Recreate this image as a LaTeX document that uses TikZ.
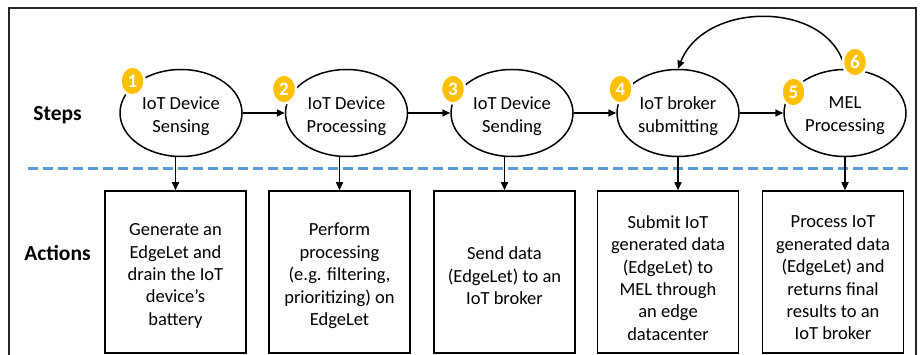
\documentclass[tikz,border=0pt]{standalone}
\usepackage{fontspec}
\setmainfont{Carlito}
\usetikzlibrary{shapes.geometric,arrows.meta}
\definecolor{badgecol}{HTML}{FFC000}
\definecolor{dashblue}{HTML}{5B9BD5}
\begin{document}
\begin{tikzpicture}[x=1pt,y=-1pt,
  stepnode/.style={ellipse, draw, line width=1.5pt, minimum width=122pt, minimum height=87pt, inner sep=0pt},
  steptext/.style={align=center, inner sep=0pt, font=\fontsize{18.5}{23}\selectfont},
  actbox/.style={draw, line width=1.5pt, minimum width=141pt, minimum height=162pt, inner sep=0pt},
  boxtext/.style={align=center, inner sep=0pt, font=\fontsize{18.5}{22.4}\selectfont},
  badgenode/.style={ellipse, fill=badgecol, draw=white, line width=2.5pt, minimum width=24pt, minimum height=29pt, inner sep=0pt, text=white, font=\fontsize{19}{19}\selectfont\bfseries},
  arr/.style={-{Triangle[length=8pt,width=7pt]}, line width=1.5pt},
  rowlabel/.style={font=\fontsize{21.5}{24}\selectfont\bfseries}
]
\useasboundingbox (0,0) rectangle (920,355);
\clip (0,0) rectangle (920,355);
\fill[white] (0,0) rectangle (920,355);
% frame
\draw[line width=1.5pt, black!85] (9,365) -- (9,8) -- (916,8) -- (916,365);
% row labels
\node[rowlabel] (steps) at (57.5,115) {Steps};
\node[rowlabel] (actions) at (57.5,253) {Actions};
% dashed separator
\draw[dashblue, line width=3pt, dash pattern=on 10pt off 5pt] (28,169) -- (910,169);
% steps
\node[stepnode] (e1) at (181,113) {};
\node[stepnode] (e2) at (346.5,113) {};
\node[stepnode] (e3) at (512,113) {};
\node[stepnode] (e4) at (678,113) {};
\node[stepnode] (e5) at (845,113) {};
\node[steptext] (s1) at (181,116) {IoT Device\\Sensing};
\node[steptext] (s2) at (346.5,116) {IoT Device\\Processing};
\node[steptext] (s3) at (512,116) {IoT Device\\Sending};
\node[steptext] (s4) at (678,116) {IoT broker\\submitting};
\node[steptext] (s5) at (845,116) {MEL\\Processing};
% actions
\node[actbox] (b1) at (175.5,272) {};
\node[actbox] (b2) at (339.5,272) {};
\node[actbox] (b3) at (504.5,272) {};
\node[actbox] (b4) at (668,272) {};
\node[actbox] (b5) at (833,272) {};
\node[boxtext] (t1) at (175.5,276) {Generate an\\EdgeLet and\\drain the IoT\\device’s\\battery};
\node[boxtext] (t2) at (339.5,276) {Perform\\processing\\(e.g. filtering,\\prioritizing) on\\EdgeLet};
\node[boxtext] (t3) at (504.5,276) {Send data\\(EdgeLet) to an\\IoT broker};
\node[boxtext] (t4) at (668,278) {Submit IoT\\generated data\\(EdgeLet) to\\MEL through\\an edge\\datacenter};
\node[boxtext] (t5) at (833,278) {Process IoT\\generated data\\(EdgeLet) and\\returns final\\results to an\\IoT broker};
% horizontal arrows
\draw[arr] (e1.east) -- (e2.west);
\draw[arr] (e2.east) -- (e3.west);
\draw[arr] (e3.east) -- (e4.west);
\draw[arr] (e4.east) -- (e5.west);
% vertical arrows
\draw[arr] (b1.north |- e1.south) -- (b1.north);
\draw[arr] (b2.north |- e2.south) -- (b2.north);
\draw[arr] (b3.north |- e3.south) -- (b3.north);
\draw[arr] (e4.south) -- (e4.south |- b4.north);
\draw[arr] (e5.south) -- (e5.south |- b5.north);
% loop back arrow
\draw[arr] (e5.north) .. controls (830,0) and (705,0) .. (e4.north);
% badges
\node[badgenode] (n1) at (132.5,81) {1};
\node[badgenode] (n2) at (284,89) {2};
\node[badgenode] (n3) at (453,89) {3};
\node[badgenode] (n4) at (620.5,89) {4};
\node[badgenode] (n5) at (793.5,92) {5};
\node[badgenode] (n6) at (855,62) {6};
\end{tikzpicture}
\end{document}
